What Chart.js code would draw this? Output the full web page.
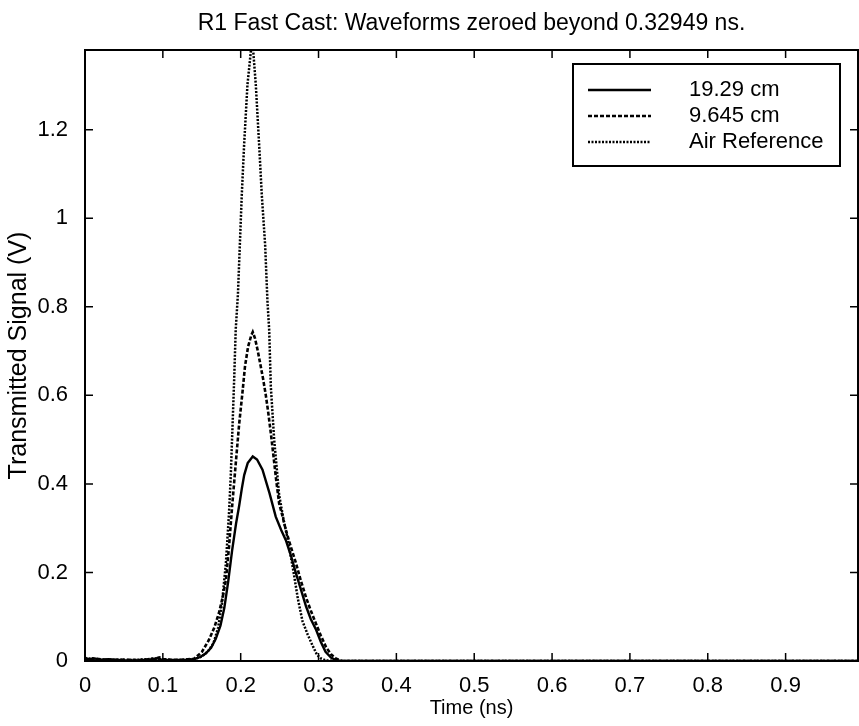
<!DOCTYPE html>
<html>
<head>
<meta charset="utf-8">
<script src="https://cdn.jsdelivr.net/npm/chart.js@4.4.1/dist/chart.umd.min.js"></script>
<style>
    html, body { margin: 0; padding: 0; background: #fff; }
    #wrap { width: 859px; height: 726px; }
</style>
</head>
<body>
<div id="wrap"><canvas id="waveChart" width="859" height="726"></canvas></div>
<script>
// Series (time in ns, signal in V)
const seriesLabels = ['19.29 cm', '9.645 cm', 'Air Reference'];

const solidTime = [0, 0.004, 0.012, 0.02, 0.03, 0.05, 0.07, 0.09, 0.094, 0.098, 0.11, 0.13, 0.14, 0.148, 0.155, 0.162, 0.168, 0.174, 0.179, 0.184, 0.189, 0.194, 0.198, 0.2015, 0.2045, 0.209, 0.2155, 0.221, 0.228, 0.237, 0.245, 0.252, 0.258, 0.265, 0.271, 0.278, 0.284, 0.290, 0.297, 0.303, 0.309, 0.316, 0.322, 0.3295, 0.993];
const solidSignal = [0.008, 0.004, 0.006, 0.003, 0.004, 0.001, 0.002, 0.004, 0.007, 0.003, 0.002, 0.003, 0.004, 0.009, 0.017, 0.03, 0.05, 0.08, 0.12, 0.18, 0.25, 0.31, 0.35, 0.39, 0.42, 0.447, 0.462, 0.455, 0.432, 0.379, 0.326, 0.296, 0.273, 0.235, 0.198, 0.158, 0.123, 0.095, 0.070, 0.043, 0.021, 0.008, 0.002, 0, 0];

const dashedTime = [0, 0.006, 0.015, 0.03, 0.05, 0.07, 0.09, 0.096, 0.1, 0.12, 0.14, 0.15, 0.159, 0.166, 0.172, 0.177, 0.181, 0.185, 0.189, 0.1937, 0.198, 0.2022, 0.2055, 0.2095, 0.2135, 0.2155, 0.2185, 0.222, 0.2258, 0.229, 0.2323, 0.2355, 0.2387, 0.242, 0.2455, 0.2494, 0.254, 0.258, 0.264, 0.271, 0.277, 0.2837, 0.290, 0.2966, 0.303, 0.3095, 0.316, 0.322, 0.3295, 0.993];
const dashedSignal = [0.006, 0.003, 0.005, 0.002, 0.003, 0.002, 0.005, 0.008, 0.004, 0.002, 0.005, 0.02, 0.047, 0.075, 0.108, 0.145, 0.183, 0.258, 0.349, 0.447, 0.535, 0.605, 0.665, 0.71, 0.735, 0.743, 0.728, 0.70, 0.665, 0.635, 0.600, 0.56, 0.515, 0.465, 0.41, 0.356, 0.325, 0.296, 0.26, 0.221, 0.183, 0.145, 0.114, 0.085, 0.057, 0.032, 0.015, 0.006, 0, 0];

const airTime = [0, 0.01, 0.02, 0.04, 0.06, 0.08, 0.09, 0.1, 0.12, 0.14, 0.15, 0.158, 0.165, 0.171, 0.176, 0.181, 0.185, 0.1873, 0.1895, 0.1916, 0.1936, 0.1965, 0.1989, 0.2014, 0.2044, 0.2087, 0.2115, 0.2135, 0.216, 0.2194, 0.2237, 0.2271, 0.2314, 0.2344, 0.2366, 0.2387, 0.243, 0.2494, 0.255, 0.261, 0.268, 0.2735, 0.2794, 0.286, 0.2923, 0.298, 0.303, 0.31, 0.3295, 0.993];
const airSignal = [0.004, 0.006, 0.002, 0.003, 0.002, 0.004, 0.006, 0.003, 0.002, 0.004, 0.01, 0.022, 0.04, 0.075, 0.13, 0.221, 0.334, 0.42, 0.53, 0.635, 0.748, 0.83, 0.94, 1.053, 1.166, 1.302, 1.35, 1.385, 1.38, 1.302, 1.166, 1.053, 0.94, 0.812, 0.748, 0.62, 0.50, 0.375, 0.32, 0.27, 0.2, 0.14, 0.09, 0.06, 0.035, 0.014, 0.006, 0.001, 0, 0];

const xMin = 0, xMax = 0.993, xStep = 0.1;
const yMin = 0, yMax = 1.38, yStep = 0.2;

const FONT = '"Liberation Sans", Arial, Helvetica, sans-serif';

const toPoints = (t, v) => t.map((x, i) => ({ x: x, y: v[i] }));
const fmtTick = v => String(Number(v.toFixed(2)));

// frame with inward ticks on all four sides + legend box (matlab style)
const framePlugin = {
    id: 'frame',
    afterDraw(chart) {
        const { ctx, chartArea, scales } = chart;
        const { left, right, top, bottom } = chartArea;
        ctx.save();
        ctx.strokeStyle = '#000';
        ctx.lineWidth = 2;
        ctx.strokeRect(left, top, right - left, bottom - top);

        ctx.lineWidth = 1.5;
        ctx.beginPath();
        scales.x.ticks.forEach(t => {
            const px = scales.x.getPixelForValue(t.value);
            ctx.moveTo(px, bottom); ctx.lineTo(px, bottom - 8);
            ctx.moveTo(px, top); ctx.lineTo(px, top + 8);
        });
        scales.y.ticks.forEach(t => {
            const py = scales.y.getPixelForValue(t.value);
            ctx.moveTo(left, py); ctx.lineTo(left + 8, py);
            ctx.moveTo(right, py); ctx.lineTo(right - 8, py);
        });
        ctx.stroke();

        // legend
        const boxW = 267, boxH = 102;
        const bx = right - 18 - boxW, by = top + 14;
        ctx.fillStyle = '#fff';
        ctx.fillRect(bx, by, boxW, boxH);
        ctx.lineWidth = 2;
        ctx.strokeRect(bx, by, boxW, boxH);
        ctx.font = '22px ' + FONT;
        ctx.textBaseline = 'middle';
        ctx.fillStyle = '#000';
        const rowY = [26, 52, 78];
        chart.data.datasets.forEach((ds, i) => {
            const y = by + rowY[i];
            ctx.beginPath();
            ctx.lineWidth = ds.borderWidth;
            ctx.setLineDash(ds.borderDash || []);
            ctx.moveTo(bx + 15, y);
            ctx.lineTo(bx + 78, y);
            ctx.stroke();
            ctx.setLineDash([]);
            ctx.fillText(ds.label, bx + 116, y);
        });
        ctx.restore();
    }
};

const ctx = document.getElementById('waveChart').getContext('2d');
new Chart(ctx, {
    type: 'line',
    data: {
        datasets: [
            {
                label: seriesLabels[0],
                data: toPoints(solidTime, solidSignal),
                borderColor: '#000',
                borderWidth: 2.4,
                pointRadius: 0,
                tension: 0
            },
            {
                label: seriesLabels[1],
                data: toPoints(dashedTime, dashedSignal),
                borderColor: '#000',
                borderWidth: 2.6,
                borderDash: [4, 2],
                pointRadius: 0,
                tension: 0
            },
            {
                label: seriesLabels[2],
                data: toPoints(airTime, airSignal),
                borderColor: '#000',
                borderWidth: 2.5,
                borderDash: [2, 1.5],
                pointRadius: 0,
                tension: 0
            }
        ]
    },
    options: {
        responsive: false,
        animation: false,
        layout: { padding: { left: 0, right: 1, top: 0, bottom: 0 } },
        plugins: {
            legend: { display: false },
            tooltip: { enabled: false },
            title: {
                display: true,
                text: 'R1 Fast Cast: Waveforms zeroed beyond 0.32949 ns.',
                color: '#000',
                fullSize: false,
                font: { family: FONT, size: 23, weight: 'normal', lineHeight: 1.2 },
                padding: { top: 10, bottom: 12.4 }
            }
        },
        scales: {
            x: {
                type: 'linear',
                min: xMin,
                max: xMax,
                grid: { display: false },
                border: { display: false },
                ticks: {
                    stepSize: xStep,
                    includeBounds: false,
                    color: '#000',
                    padding: 4,
                    maxRotation: 0,
                    font: { family: FONT, size: 22 },
                    callback: fmtTick
                },
                title: {
                    display: true,
                    text: 'Time (ns)',
                    color: '#000',
                    font: { family: FONT, size: 20 },
                    padding: { top: 0, bottom: 6 }
                },
                afterFit: s => { s.height = 65; }
            },
            y: {
                min: yMin,
                max: yMax,
                grid: { display: false },
                border: { display: false },
                ticks: {
                    stepSize: yStep,
                    includeBounds: false,
                    color: '#000',
                    padding: 9,
                    font: { family: FONT, size: 22 },
                    callback: fmtTick
                },
                title: {
                    display: true,
                    text: 'Transmitted Signal (V)',
                    color: '#000',
                    font: { family: FONT, size: 25 },
                    padding: { top: 4, bottom: 0 }
                },
                afterFit: s => { s.width = 85; }
            }
        }
    },
    plugins: [framePlugin]
});
</script>
</body>
</html>
